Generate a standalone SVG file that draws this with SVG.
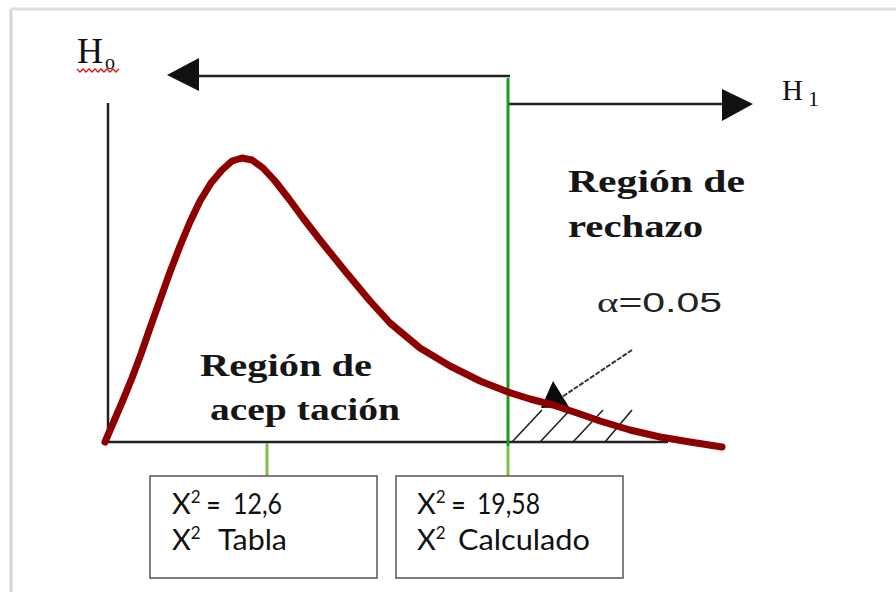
<svg xmlns="http://www.w3.org/2000/svg" width="896" height="592" viewBox="0 0 896 592">
<defs>
<style>
.ser{font-family:"Liberation Serif","DejaVu Serif",serif;fill:#111}
.bold{font-family:"Liberation Serif","DejaVu Serif",serif;font-weight:bold;fill:#151515}
.sans{font-family:"Lato","Open Sans","Liberation Sans",sans-serif;fill:#111}
.ax{stroke:#222;stroke-width:2.5;fill:none}
.grn{stroke:#1a9a1a;stroke-width:3;fill:none}
.lgrn{stroke:#7cc04a;stroke-width:3;fill:none}
.box{fill:#fff;stroke:#555;stroke-width:1.5}
.hatch{stroke:#222;stroke-width:1.6;fill:none}
</style>
</defs>
<rect width="896" height="592" fill="#fff"/>
<g id="frame">
<line x1="11" y1="9" x2="11" y2="592" stroke="#d4d4d4" stroke-width="3"/>
<line x1="11" y1="9" x2="896" y2="9" stroke="#dedede" stroke-width="3"/>
</g>
<g id="connectors">
<line class="ax" x1="108" y1="103" x2="108" y2="443"/>
<line class="ax" x1="104" y1="442" x2="668" y2="442"/>
<line class="ax" x1="196" y1="76" x2="510" y2="76"/>
<polygon points="167,75 199,58 199,91" fill="#111"/>
<line class="ax" x1="508" y1="104" x2="724" y2="104"/>
<polygon points="753,104 722,89 722,121" fill="#111"/>
<line class="grn" x1="508" y1="78" x2="508" y2="446"/>
<line class="lgrn" x1="508" y1="446" x2="508" y2="476"/>
<line class="lgrn" x1="267" y1="443" x2="267" y2="476"/>
<line class="hatch" x1="512" y1="442" x2="542" y2="410"/>
<line class="hatch" x1="540" y1="442" x2="571" y2="409"/>
<line class="hatch" x1="573" y1="442" x2="603" y2="410"/>
<line class="hatch" x1="605" y1="442" x2="632" y2="410"/>
<line x1="632" y1="350" x2="562" y2="397" stroke="#333" stroke-width="2" stroke-dasharray="5,1.5"/>
<polygon points="553,381 541,408 569,407" fill="#0a0a0a"/>
</g>
<g id="curve">
<polyline points="105,442 114,421 123,400 132,378 141,354 150,328 160,300 170,272 180,246 190,222 200,201 211,183 222,170 232,161 242,158 252,160 263,168 275,181 289,199 303,218 320,240 345,271 370,301 390,323 420,348 450,366 480,381 508,392 530,399 553,405 580,414 600,421 630,430 660,437 690,442 722,447" fill="none" stroke="#8e0000" stroke-width="7" stroke-linejoin="round" stroke-linecap="round"/>
</g>
<g id="h0">
<text class="ser" x="77" y="63" font-size="36">H</text>
<text class="ser" x="105" y="69" font-size="20">o</text>
<path d="M77,69 l3,3 l3,-3 l3,3 l3,-3 l3,3 l3,-3 l3,3 l3,-3 l3,3 l3,-3 l3,3 l3,-3 l3,3 l3,-3" fill="none" stroke="#e01010" stroke-width="1.3"/>
</g>
<g id="h1">
<text class="ser" x="782" y="100" font-size="29">H</text>
<text class="ser" x="808" y="106" font-size="22">1</text>
</g>
<g id="rechazo">
<text class="bold" x="568" y="192" font-size="31" textLength="177" lengthAdjust="spacingAndGlyphs">Región de</text>
<text class="bold" x="568" y="237" font-size="31" textLength="135" lengthAdjust="spacingAndGlyphs">rechazo</text>
</g>
<g id="alpha">
<text x="597" y="312" font-size="27" fill="#222" font-family="'Liberation Sans',sans-serif" textLength="125" lengthAdjust="spacingAndGlyphs"><tspan font-family="'Liberation Serif',serif">α</tspan>=0.05</text>
</g>
<g id="aceptacion">
<text class="bold" x="200" y="376" font-size="31" textLength="172" lengthAdjust="spacingAndGlyphs">Región de</text>
<text class="bold" x="210" y="420" font-size="31" textLength="190" lengthAdjust="spacingAndGlyphs">acep tación</text>
</g>
<g id="box-tabla">
<rect class="box" x="150" y="476" width="227" height="102"/>
<text class="sans" x="172" y="514" font-size="29">X<tspan font-size="17" dy="-11">2</tspan><tspan dy="11" font-size="24" font-weight="bold"> =</tspan><tspan x="233" textLength="49" lengthAdjust="spacingAndGlyphs">12,6</tspan></text>
<text class="sans" x="172" y="550" font-size="29">X<tspan font-size="17" dy="-11">2</tspan><tspan dy="11" x="218" textLength="69" lengthAdjust="spacingAndGlyphs">Tabla</tspan></text>
</g>
<g id="box-calculado">
<rect class="box" x="396" y="476" width="227" height="102"/>
<text class="sans" x="417" y="514" font-size="29">X<tspan font-size="17" dy="-11">2</tspan><tspan dy="11" font-size="24" font-weight="bold"> =</tspan><tspan x="477" textLength="63" lengthAdjust="spacingAndGlyphs">19,58</tspan></text>
<text class="sans" x="417" y="550" font-size="29">X<tspan font-size="17" dy="-11">2</tspan><tspan dy="11" x="458" textLength="132" lengthAdjust="spacingAndGlyphs">Calculado</tspan></text>
</g>
</svg>
